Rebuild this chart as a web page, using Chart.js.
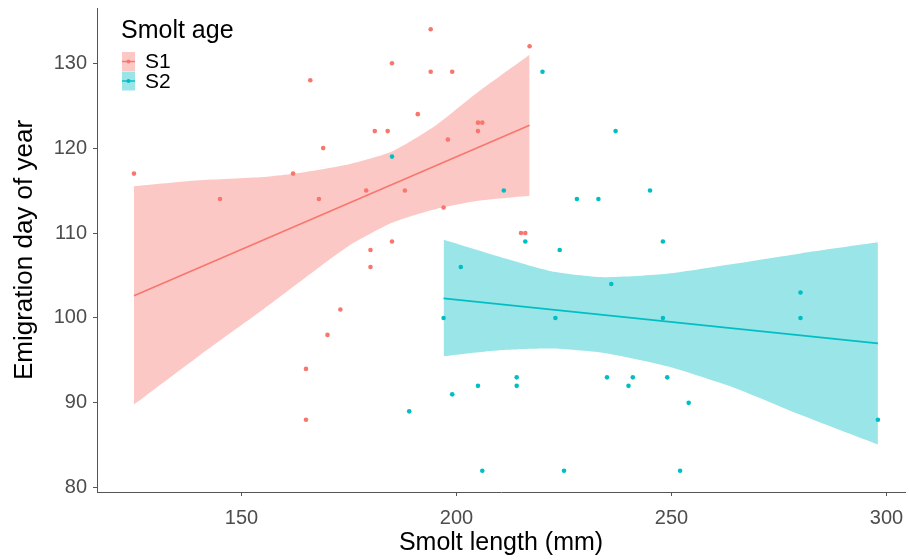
<!DOCTYPE html>
<html>
<head>
<meta charset="utf-8">
<script src="https://cdn.jsdelivr.net/npm/chart.js@4.4.1/dist/chart.umd.min.js"></script>
<style>
body { margin: 0; background: #fff; }
#wrap { width: 909px; height: 560px; }
</style>
</head>
<body>
<div id="wrap"><canvas id="smoltChart" width="909" height="560"></canvas></div>
<script>
// Smolt length (mm) and emigration day, per age group
const s1Length = [125, 145, 162, 166, 169, 168, 179, 181, 184, 185, 188, 191, 194, 194, 199, 198, 197, 205, 206, 205, 217, 215, 216, 185, 180, 180, 173, 170, 165, 165];
const s1Day    = [117, 114, 117, 128, 120, 114, 115, 122, 122, 130, 115, 124, 134, 129, 129, 121, 113, 123, 123, 122, 132, 110, 110, 109, 108, 106, 101, 98, 94, 88];
const s2Length = [185, 220, 211, 216, 197, 201, 189, 199, 205, 214, 214, 206, 223, 224, 237, 228, 233, 245, 248, 236, 248, 280, 280, 235, 241, 240, 249, 254, 298, 225, 252];
const s2Day    = [119, 129, 115, 109, 100, 106, 89, 91, 92, 93, 92, 82, 100, 108, 122, 114, 114, 115, 109, 104, 100, 103, 100, 93, 93, 92, 93, 90, 88, 82, 82];

// fitted lines
const s1FitX = [125, 217];
const s1FitY = [102.6, 122.7];
const s2FitX = [197, 298];
const s2FitY = [102.3, 97.0];

// confidence bands
const s1BandX     = [125, 140, 155, 165, 175, 185, 195, 205, 217];
const s1BandUpper = [115.5, 116.2, 116.6, 117.2, 118.1, 119.6, 122.6, 126.6, 131.0];
const s1BandLower = [89.8, 95.5, 101.0, 104.8, 108.5, 111.2, 112.8, 113.8, 114.4];
const s2BandX     = [197, 210, 222, 234, 249, 265, 280, 298];
const s2BandUpper = [109.2, 107.2, 105.5, 104.8, 105.2, 106.4, 107.6, 108.9];
const s2BandLower = [95.5, 96.2, 96.4, 95.9, 94.3, 91.7, 88.6, 85.1];

const xTicks = [150, 200, 250, 300];
const yTicks = [80, 90, 100, 110, 120, 130];
const groupLabels = ['S1', 'S2'];
const legendTitle = 'Smolt age';

const red = '#F8766D';
const teal = '#00BFC4';
const redFill = 'rgba(248, 118, 109, 0.4)';
const tealFill = 'rgba(0, 191, 196, 0.4)';
const fontFamily = '"Liberation Sans", Arial, sans-serif';

function toPoints(xs, ys) {
    return xs.map((x, i) => ({ x: x, y: ys[i] }));
}

function pointSet(xs, ys, color) {
    return {
        data: toPoints(xs, ys),
        backgroundColor: color,
        borderWidth: 0,
        pointRadius: 2.3,
        order: 0
    };
}

function fitSet(xs, ys, color) {
    return {
        data: toPoints(xs, ys),
        showLine: true,
        borderColor: color,
        borderWidth: 1.6,
        pointRadius: 0,
        fill: false,
        order: 1
    };
}

function bandSet(xs, ys, fillColor, fill) {
    return {
        data: toPoints(xs, ys),
        showLine: true,
        borderWidth: 0,
        borderColor: 'rgba(0,0,0,0)',
        backgroundColor: fillColor,
        pointRadius: 0,
        tension: 0.2,
        fill: fill,
        order: 2
    };
}

// legend in the top left corner, ggplot style
const smoltLegend = {
    id: 'smoltLegend',
    afterDraw(chart) {
        const ctx = chart.ctx;
        ctx.save();
        ctx.fillStyle = '#000';
        ctx.font = '25px ' + fontFamily;
        ctx.textBaseline = 'alphabetic';
        ctx.textAlign = 'left';
        ctx.fillText(legendTitle, 121, 38);

        const colors = [red, teal];
        const fills = [redFill, tealFill];
        groupLabels.forEach((label, i) => {
            const top = 52 + i * 19.5;
            ctx.fillStyle = fills[i];
            ctx.fillRect(122, top, 13, 19);
            ctx.strokeStyle = colors[i];
            ctx.lineWidth = 1.4;
            ctx.beginPath();
            ctx.moveTo(122, top + 9.5);
            ctx.lineTo(135, top + 9.5);
            ctx.stroke();
            ctx.fillStyle = colors[i];
            ctx.beginPath();
            ctx.arc(128.5, top + 9.5, 2, 0, Math.PI * 2);
            ctx.fill();
            ctx.fillStyle = '#000';
            ctx.font = '21px ' + fontFamily;
            ctx.textBaseline = 'middle';
            ctx.fillText(label, 145, top + 10.5);
        });
        ctx.restore();
    }
};

const ctx = document.getElementById('smoltChart').getContext('2d');
new Chart(ctx, {
    type: 'scatter',
    data: {
        datasets: [
            pointSet(s1Length, s1Day, red),
            pointSet(s2Length, s2Day, teal),
            fitSet(s1FitX, s1FitY, red),
            fitSet(s2FitX, s2FitY, teal),
            bandSet(s1BandX, s1BandUpper, redFill, '+1'),
            bandSet(s1BandX, s1BandLower, redFill, false),
            bandSet(s2BandX, s2BandUpper, tealFill, '+1'),
            bandSet(s2BandX, s2BandLower, tealFill, false)
        ]
    },
    options: {
        responsive: false,
        animation: false,
        events: [],
        layout: { padding: { left: 0, top: 8, right: 4, bottom: 0 } },
        plugins: {
            legend: { display: false },
            tooltip: { enabled: false }
        },
        scales: {
            x: {
                type: 'linear',
                min: 116.4,
                max: 304.3,
                afterBuildTicks: scale => { scale.ticks = xTicks.map(v => ({ value: v })); },
                afterFit: scale => { scale.height = 68; scale.paddingRight = 0; scale.paddingLeft = 0; },
                grid: { drawOnChartArea: false, drawTicks: true, tickLength: 4, color: '#555' },
                border: { display: true, color: '#555', width: 1 },
                ticks: { color: '#4D4D4D', font: { family: fontFamily, size: 20 }, padding: 10, maxRotation: 0 },
                title: {
                    display: true,
                    text: 'Smolt length (mm)',
                    color: '#000',
                    font: { family: fontFamily, size: 25, lineHeight: 1.2 },
                    padding: { top: 0, bottom: 2 }
                }
            },
            y: {
                type: 'linear',
                min: 79.5,
                max: 136.5,
                afterBuildTicks: scale => { scale.ticks = yTicks.map(v => ({ value: v })); },
                afterFit: scale => { scale.width = 97; scale.paddingTop = 0; scale.paddingBottom = 0; },
                grid: { drawOnChartArea: false, drawTicks: true, tickLength: 4, color: '#555' },
                border: { display: true, color: '#555', width: 1 },
                ticks: { color: '#4D4D4D', font: { family: fontFamily, size: 20 }, padding: 6 },
                title: {
                    display: true,
                    text: 'Emigration day of year',
                    color: '#000',
                    font: { family: fontFamily, size: 26, lineHeight: 1.2 },
                    padding: { top: 9, bottom: 0 }
                }
            }
        }
    },
    plugins: [smoltLegend]
});
</script>
</body>
</html>
